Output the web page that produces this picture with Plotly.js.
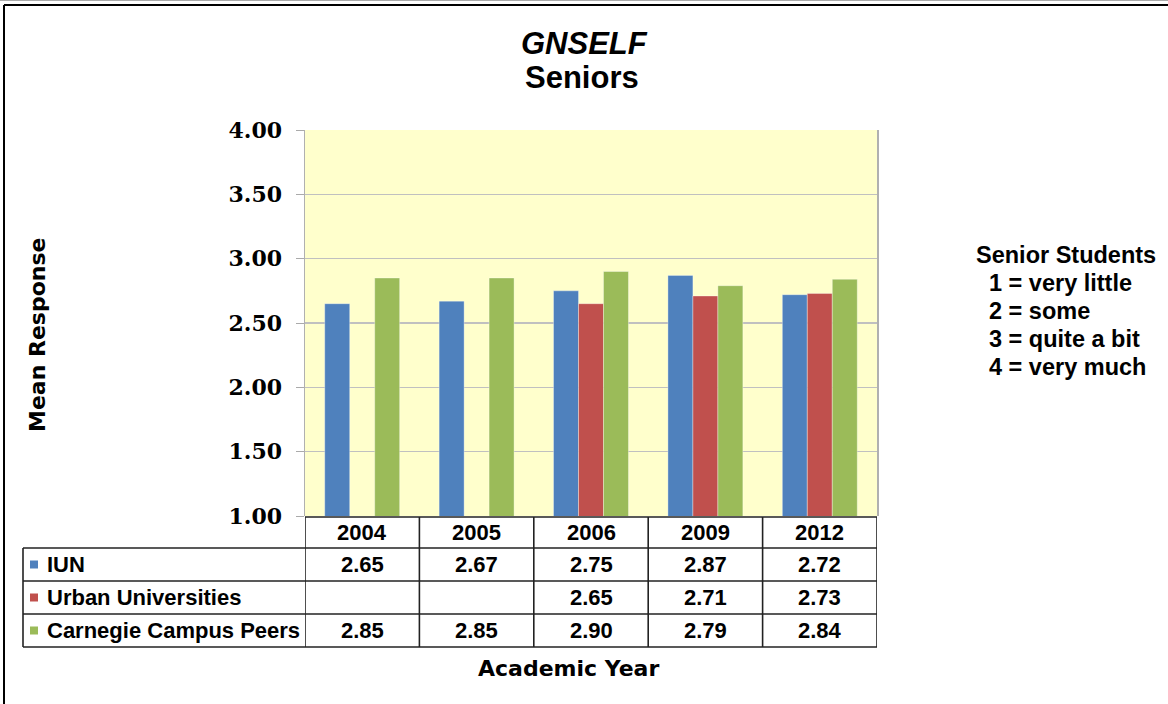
<!DOCTYPE html>
<html>
<head>
<meta charset="utf-8">
<script src="https://cdn.plot.ly/plotly-3.0.1.min.js"></script>
<style>
  html, body { margin: 0; padding: 0; background: #fff; }
  #chart { width: 1168px; height: 704px; }
</style>
</head>
<body>
<div id="chart"></div>
<script>
// ---- data ----
const years = ['2004', '2005', '2006', '2009', '2012'];
const seriesNames = ['IUN', 'Urban Universities', 'Carnegie Campus Peers'];
const iun = [2.65, 2.67, 2.75, 2.87, 2.72];
const urban = [null, null, 2.65, 2.71, 2.73];
const carnegie = [2.85, 2.85, 2.90, 2.79, 2.84];
const yTickVals = [1.0, 1.5, 2.0, 2.5, 3.0, 3.5, 4.0];
const scaleLines = ['1 = very little', '2 = some', '3 = quite a bit', '4 = very much'];

// ---- styling / geometry ----
const colors = ['#4F81BD', '#C0504D', '#9BBB59'];
const W = 1168, H = 704;
const L = 305, R = 877, T = 130, B = 516;
const px = x => (x - L) / (R - L);
const py = y => (B - y) / (B - T);

const allSeries = [iun, urban, carnegie];
const traces = allSeries.map((vals, i) => ({
  type: 'bar',
  name: seriesNames[i],
  x: years,
  y: vals,
  marker: { color: colors[i], line: { color: 'rgba(255,255,255,0.35)', width: 1 } },
  hoverinfo: 'x+y+name'
}));

const lineStyle = { color: '#222', width: 1.6 };
const shapes = [];
// outer frame
shapes.push({ type: 'line', xref: 'paper', yref: 'paper', x0: px(0), x1: px(W), y0: py(0.5), y1: py(0.5), line: { color: '#aaa', width: 1 } });
shapes.push({ type: 'line', xref: 'paper', yref: 'paper', x0: px(4), x1: px(W), y0: py(5), y1: py(5), line: { color: '#000', width: 2 } });
shapes.push({ type: 'line', xref: 'paper', yref: 'paper', x0: px(4), x1: px(4), y0: py(5), y1: py(H), line: { color: '#000', width: 2 } });

// table grid
const rowTops = [517, 548, 581, 614, 647];
shapes.push({ type: 'line', xref: 'paper', yref: 'paper', x0: 0, x1: 1, y0: py(rowTops[0]), y1: py(rowTops[0]), line: lineStyle });
for (let r = 1; r < rowTops.length; r++) {
  shapes.push({ type: 'line', xref: 'paper', yref: 'paper', x0: px(23), x1: 1, y0: py(rowTops[r]), y1: py(rowTops[r]), line: lineStyle });
}
shapes.push({ type: 'line', xref: 'paper', yref: 'paper', x0: px(23), x1: px(23), y0: py(548), y1: py(647), line: lineStyle });
for (let c = 0; c <= years.length; c++) {
  shapes.push({ type: 'line', xref: 'x', yref: 'paper', x0: c - 0.5, x1: c - 0.5, y0: py(517), y1: py(647), line: lineStyle });
}
// legend keys in table
const rowCenters = [564.5, 597.5, 630.5];
rowCenters.forEach((yc, i) => {
  shapes.push({ type: 'rect', xref: 'paper', yref: 'paper', x0: px(30), x1: px(38), y0: py(yc - 4), y1: py(yc + 4), line: { width: 0 }, fillcolor: colors[i] });
});

const tFont = { family: 'Liberation Sans, Arial, sans-serif', size: 22, color: '#000', weight: 'bold' };
const annotations = [];
// header years
years.forEach((yr, j) => {
  annotations.push({ xref: 'x', yref: 'paper', x: j, y: py(532.5), text: yr, showarrow: false, font: tFont, xanchor: 'center', yanchor: 'middle' });
});
// row labels and values
allSeries.forEach((vals, i) => {
  annotations.push({ xref: 'paper', yref: 'paper', x: px(45), y: py(rowCenters[i]), text: seriesNames[i], showarrow: false, font: tFont, xanchor: 'left', yanchor: 'middle' });
  vals.forEach((v, j) => {
    if (v === null) return;
    annotations.push({ xref: 'x', yref: 'paper', x: j, y: py(rowCenters[i]), text: v.toFixed(2), showarrow: false, font: tFont, xanchor: 'center', yanchor: 'middle' });
  });
});
// title
const titleFont = { family: 'Liberation Sans, Arial, sans-serif', size: 31, color: '#000', weight: 'bold' };
annotations.push({ xref: 'paper', yref: 'paper', x: px(584), y: py(43), text: '<i>GNSELF</i>', showarrow: false, xanchor: 'center', yanchor: 'middle', font: titleFont });
annotations.push({ xref: 'paper', yref: 'paper', x: px(582), y: py(78), text: 'Seniors', showarrow: false, xanchor: 'center', yanchor: 'middle', font: titleFont });
// axis titles
const axFont = { family: 'DejaVu Sans, Verdana, sans-serif', size: 22, color: '#000', weight: 'bold' };
annotations.push({ xref: 'paper', yref: 'paper', x: px(37), y: py(335), text: 'Mean Response', showarrow: false, textangle: -90, xanchor: 'center', yanchor: 'middle', font: axFont });
annotations.push({ xref: 'paper', yref: 'paper', x: px(568), y: py(668), text: 'Academic Year', showarrow: false, xanchor: 'center', yanchor: 'middle', font: axFont });
// scale legend
const lgFont = { family: 'Liberation Sans, Arial, sans-serif', size: 23.5, color: '#000', weight: 'bold' };
annotations.push({ xref: 'paper', yref: 'paper', x: px(974), y: py(255), text: 'Senior Students', showarrow: false, xanchor: 'left', yanchor: 'middle', font: lgFont });
scaleLines.forEach((s, i) => {
  annotations.push({ xref: 'paper', yref: 'paper', x: px(987), y: py(283 + 28 * i), text: s, showarrow: false, xanchor: 'left', yanchor: 'middle', font: lgFont });
});

const layout = {
  width: W, height: H,
  margin: { l: L, r: W - R, t: T, b: H - B, pad: 0 },
  paper_bgcolor: '#fff',
  plot_bgcolor: '#FFFFCC',
  barmode: 'group',
  bargap: 0.345,
  bargroupgap: 0,
  showlegend: false,
  xaxis: {
    type: 'category',
    categoryorder: 'array',
    categoryarray: years,
    range: [-0.5, years.length - 0.5],
    autorange: false,
    showticklabels: false,
    ticks: '',
    showgrid: false,
    zeroline: false,
    showline: false,
    fixedrange: true
  },
  yaxis: {
    range: [1, 4],
    autorange: false,
    tickvals: yTickVals,
    tickformat: '.2f',
    ticks: 'outside',
    ticklen: 8,
    tickcolor: '#aaa',
    ticklabelstandoff: 9,
    tickfont: { family: 'DejaVu Serif, serif', size: 22, color: '#000', weight: 'bold' },
    showgrid: true,
    gridcolor: '#C0C0C0',
    gridwidth: 1.5,
    zeroline: false,
    showline: true,
    linecolor: '#B0B0B0',
    linewidth: 1.5,
    mirror: true,
    fixedrange: true
  },
  shapes: shapes,
  annotations: annotations
};

Plotly.newPlot('chart', traces, layout, { displayModeBar: false, staticPlot: true });
</script>
</body>
</html>
